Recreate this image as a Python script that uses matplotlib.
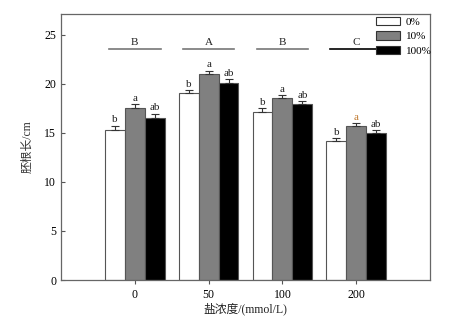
import matplotlib
matplotlib.use("Agg")
import matplotlib.pyplot as plt
import numpy as np
from matplotlib.patches import Patch

categories = ["0", "50", "100", "200"]
series_names = ["0%", "10%", "100%"]
values_0 = [15.3, 19.1, 17.1, 14.2]
values_10 = [17.5, 21.0, 18.5, 15.7]
values_100 = [16.5, 20.1, 17.9, 15.0]
err_0 = [0.4, 0.25, 0.4, 0.25]
err_10 = [0.4, 0.3, 0.35, 0.25]
err_100 = [0.45, 0.35, 0.3, 0.25]
letters_0 = ["b", "b", "b", "b"]
letters_10 = ["a", "a", "a", "a"]
letters_100 = ["ab", "ab", "ab", "ab"]
group_letters = ["B", "A", "B", "C"]

fam = ["Liberation Serif", "Noto Sans CJK SC", "DejaVu Sans"]
plt.rcParams["font.family"] = fam

fig = plt.figure(figsize=(4.63, 3.22), dpi=100)
ax = fig.add_axes([0.1318, 0.1304, 0.7969, 0.8261])

x = np.arange(1, len(categories) + 1)
w = 0.27
colors = ["white", "#808080", "black"]
all_vals = [values_0, values_10, values_100]
all_errs = [err_0, err_10, err_100]
all_letters = [letters_0, letters_10, letters_100]
for i, (vals, errs, lets, c) in enumerate(zip(all_vals, all_errs, all_letters, colors)):
    pos = x + (i - 1) * w
    ax.bar(pos, vals, width=w, color=c, edgecolor="#555555", linewidth=0.8, zorder=2)
    ax.errorbar(pos, vals, yerr=[np.zeros(len(vals)), errs], fmt="none",
                ecolor="#333333", elinewidth=0.8, capsize=3, capthick=0.8, zorder=3)
    for j, (p, v, e, l) in enumerate(zip(pos, vals, errs, lets)):
        col = "#c07a30" if (i == 1 and j == 3) else "#222222"
        ax.text(p, v + e + 0.15, l, ha="center", va="bottom", fontsize=8, color=col)

for j, (xc, g) in enumerate(zip(x, group_letters)):
    lc = "black" if j == 3 else "#777777"
    ax.plot([xc - 0.35, xc + 0.35], [23.5, 23.5], color=lc, linewidth=1.2)
    ax.text(xc, 23.75, g, ha="center", va="bottom", fontsize=8, color="#222222")

ax.set_xlim(0, 5)
ax.set_ylim(0, 27.1)
ax.set_xticks(x)
ax.set_xticklabels(categories, fontsize=8.5)
ax.set_yticks([0, 5, 10, 15, 20, 25])
ax.tick_params(axis="y", direction="in", length=3, labelsize=8.5, color="#555555")
ax.tick_params(axis="x", direction="out", length=3, labelsize=8.5, color="#555555")
for s in ax.spines.values():
    s.set_color("#666666")
    s.set_linewidth(0.9)

ax.set_xlabel("盐浓度/(mmol/L)", fontsize=8.5, labelpad=1, color="#222222")
ax.set_ylabel("胚根长/cm", fontsize=8.5, labelpad=8, color="#333333")

handles = [Patch(facecolor=c, edgecolor="#333333", linewidth=0.8) for c in colors]
ax.legend(handles, series_names, loc="upper right", frameon=False, fontsize=8,
          handlelength=2.2, handleheight=0.75, handletextpad=0.5, labelspacing=0.4,
          borderaxespad=0.0, borderpad=0.2, bbox_to_anchor=(1.011, 0.997))

fig.savefig("out.png", dpi=100)
